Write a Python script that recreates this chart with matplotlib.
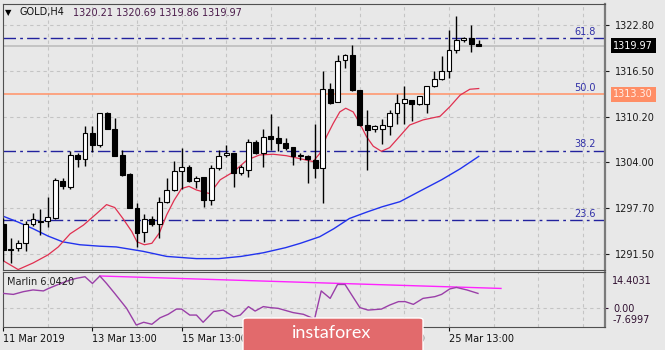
import matplotlib.pyplot as plt
from matplotlib.patches import FancyBboxPatch
import matplotlib.transforms as mtransforms

# GOLD H4 candles, bar 0 = 11 Mar 13:00
opens = [1295.6, 1292.1, 1292.2, 1292.9, 1295.6, 1295.9, 1295.9, 1296.4, 1301.5, 1300.6,
         1305.0, 1304.4, 1308.0, 1306.4, 1310.7, 1308.6, 1305.0, 1302.4, 1297.8, 1294.5,
         1296.2, 1295.6, 1298.6, 1300.2, 1302.8, 1303.3, 1301.5, 1302.0, 1298.8, 1303.2,
         1305.0, 1305.3, 1302.5, 1303.0, 1306.8, 1305.2, 1307.6, 1307.3, 1306.7, 1306.1,
         1304.9, 1304.9, 1304.3, 1303.2, 1314.1, 1312.3, 1318.0, 1318.7, 1313.9, 1309.1,
         1308.5, 1308.6, 1309.0, 1310.8, 1312.1, 1312.5, 1312.0, 1312.0, 1314.4, 1315.4,
         1316.5, 1319.4, 1320.7, 1321.0, 1320.21]
highs = [1296.3, 1293.6, 1293.4, 1296.0, 1297.0, 1297.6, 1299.3, 1301.8, 1301.8, 1305.6,
         1305.2, 1308.9, 1308.9, 1310.8, 1310.9, 1310.0, 1305.7, 1302.5, 1298.4, 1296.9,
         1296.6, 1299.3, 1301.8, 1304.2, 1306.0, 1303.6, 1302.1, 1302.0, 1303.6, 1305.7,
         1306.4, 1305.3, 1303.6, 1307.2, 1307.1, 1308.5, 1310.6, 1309.0, 1307.3, 1306.1,
         1305.3, 1305.0, 1309.3, 1316.5, 1314.8, 1318.7, 1318.8, 1320.1, 1313.9, 1311.2,
         1309.1, 1309.9, 1311.2, 1313.4, 1314.4, 1312.5, 1313.1, 1314.4, 1316.5, 1318.6,
         1322.1, 1324.1, 1321.1, 1322.8, 1320.69]
lows = [1290.5, 1290.2, 1291.8, 1291.9, 1295.3, 1294.1, 1295.1, 1296.2, 1300.3, 1300.4,
        1303.4, 1303.5, 1305.4, 1306.1, 1308.5, 1304.8, 1302.1, 1297.7, 1292.4, 1293.1,
        1295.2, 1293.6, 1298.4, 1300.1, 1300.3, 1301.3, 1300.5, 1297.9, 1298.1, 1302.9,
        1304.7, 1300.6, 1302.2, 1302.0, 1305.1, 1303.3, 1305.7, 1305.5, 1305.7, 1303.6,
        1304.3, 1301.2, 1301.9, 1298.4, 1312.0, 1312.2, 1316.9, 1313.8, 1308.9, 1302.9,
        1308.2, 1306.5, 1307.7, 1309.3, 1309.3, 1309.6, 1311.9, 1310.7, 1314.3, 1315.3,
        1315.6, 1318.9, 1320.5, 1319.1, 1319.86]
closes = [1292.0, 1292.0, 1293.0, 1295.6, 1296.2, 1295.8, 1296.5, 1301.6, 1300.7, 1305.0,
          1304.5, 1308.0, 1306.4, 1310.7, 1308.6, 1304.9, 1302.3, 1297.8, 1294.3, 1296.2,
          1295.6, 1298.6, 1300.2, 1302.8, 1303.3, 1301.5, 1301.9, 1298.8, 1303.2, 1304.9,
          1305.3, 1302.5, 1303.3, 1306.8, 1305.2, 1307.5, 1307.2, 1306.7, 1305.9, 1304.9,
          1304.9, 1304.4, 1303.2, 1314.1, 1312.1, 1317.9, 1318.7, 1313.9, 1309.1, 1308.4,
          1308.9, 1309.1, 1310.8, 1312.1, 1312.6, 1312.0, 1313.1, 1314.4, 1315.4, 1316.5,
          1319.4, 1320.7, 1321.0, 1320.2, 1319.97]

# fast moving average (red)
red_x = [-0.5, 2, 4, 6, 7.4, 9, 10.8, 12.6, 13.9, 15, 16.1, 17.3, 18, 19, 20, 21, 22, 23, 24,
         25, 26, 27.8, 29.2, 31, 32.8, 34.5, 36.3, 38.1, 39.9, 41.7, 42.6, 43.5, 44.4, 45.3,
         46.1, 47.1, 48, 48.9, 49.8, 50.9, 52, 53.4, 54.7, 56.5, 58.8, 60.1, 61.5, 62.8, 64]
red_y = [1290.8, 1289.3, 1290.2, 1291.3, 1292.4, 1294.2, 1295.4, 1297.0, 1298.2, 1297.8,
         1296.3, 1294.5, 1293.1, 1292.7, 1292.9, 1294.3, 1296.8, 1298.8, 1300.4, 1300.7,
         1300.2, 1299.7, 1301.6, 1302.7, 1304.3, 1305.0, 1305.1, 1304.9, 1304.5, 1304.1,
         1305.2, 1307.5, 1309.3, 1310.9, 1311.4, 1310.9, 1309.3, 1307.5, 1306.2, 1305.5,
         1306.0, 1307.6, 1309.1, 1309.8, 1310.3, 1311.6, 1313.2, 1314.0, 1314.1]

# slow moving average (blue)
blue_x = [-0.5, 2, 4, 6, 8, 10.3, 13, 15.2, 18.8, 22, 26, 29, 32, 35, 38, 40, 42.6, 44.5,
          46.6, 49, 51, 53.4, 56, 59, 61.5, 64]
blue_y = [1296.8, 1295.8, 1294.9, 1293.9, 1293.1, 1292.7, 1292.5, 1292.4, 1291.8, 1291.1,
          1290.8, 1290.8, 1291.1, 1291.6, 1292.3, 1292.9, 1293.8, 1294.9, 1296.3, 1297.2,
          1297.9, 1298.6, 1300.0, 1301.6, 1303.1, 1304.8]

fib_names = ['61.8', '50.0', '38.2', '23.6']
fib_levels = [1321.0, 1313.3, 1305.6, 1296.1]
last_price = 1319.97
hline_price = 1313.30

price_ticks = [1322.80, 1316.50, 1310.20, 1304.00, 1297.70, 1291.50]
date_pos = [0, 12, 24, 36, 48, 60]
date_labels = ['11 Mar 2019', '13 Mar 13:00', '15 Mar 13:00', '19 Mar 13:00',
               '21 Mar 13:00', '25 Mar 13:00']

# Marlin oscillator
osc_x = [0, 1.35, 2.7, 4.0, 5.4, 6.1, 7.4, 9.0, 9.9, 11, 12, 13, 13.9, 15, 16.6, 17.9, 18.9,
         20, 21.1, 22.2, 23.3, 24, 25.1, 26, 26.9, 28.3, 29.6, 31, 31.9, 33, 33.9, 35, 35.9,
         37, 39, 40.4, 41.9, 42.8, 44, 45, 46, 46.9, 48, 49.1, 50.9, 52, 53.2, 54.1, 55.2,
         56.5, 58.1, 59, 60.1, 61, 62.4, 63.9]
osc_y = [5.8, 5.4, 6.5, 7.2, 6.8, 7.8, 9.4, 11.2, 11.9, 12.5, 9.8, 12.8, 9.8, 5.8, -0.2, -6.9,
         -5.8, -6.6, -4.0, -2.6, -0.5, -0.5, -2.9, -2.9, -5.8, -1.5, -0.9, -3.6, -2.9, 0.5,
         -1.3, 0.5, 0.1, -0.2, -1.9, -2.6, -4.5, 6.8, 3.8, 9.4, 9.4, 5.2, 0.1, -0.9, -0.5,
         1.1, 2.5, 2.5, 1.4, 3.8, 4.5, 5.4, 7.6, 8.2, 7.2, 5.8]
trend_x = [13, 67]
trend_y = [12.8, 7.8]
osc_max = 14.4031
osc_min = -7.6997

bg = '#e8e8e8'
grid_c = '#c4c4c4'
fig = plt.figure(figsize=(6.65, 3.5), dpi=100, facecolor=bg)

W, H = 665, 350
ax = fig.add_axes([3 / W, 1 - 270 / H, 602 / W, 266 / H], facecolor=bg)
ind = fig.add_axes([3 / W, 1 - 327 / H, 602 / W, 55 / H], facecolor=bg)

grid_pos = range(6, 81, 6)
for a in (ax, ind):
    a.set_xlim(-0.04, 81.0)
    for g in grid_pos:
        a.axvline(g, color=grid_c, lw=0.8, ls=(0, (3, 3)), zorder=0)
    for s in a.spines.values():
        s.set_color('#505050')
        s.set_linewidth(0.8)
    a.spines['right'].set_color('#7a7a7a')
    a.spines['right'].set_linewidth(1.6)

# main panel
ax.set_ylim(1289.24, 1325.68)
for p in price_ticks:
    ax.axhline(p, color=grid_c, lw=0.8, ls=(0, (3, 3)), zorder=0)
ax.yaxis.tick_right()
ax.set_yticks(price_ticks)
ax.set_yticklabels(['%.2f' % p for p in price_ticks])
ax.tick_params(axis='y', length=3, width=0.8, pad=4, labelsize=7, colors='#1a1a1a')
ax.set_xticks([])

ax.axhline(last_price, color='#bdbdbd', lw=1.2, zorder=1)
for name, lev in zip(fib_names, fib_levels):
    if name != '50.0':
        ax.axhline(lev, color='#22229e', lw=1.0, ls=(0, (9, 3, 2, 3)), zorder=1)
    ax.text(79.8, lev + 0.15, name, ha='right', va='bottom', fontsize=7, color='#3030a8')
ax.axhline(hline_price, color='#ff9870', lw=1.2, zorder=1)

ax.plot(blue_x, blue_y, color='#2233ee', lw=1.0, zorder=2)
ax.plot(red_x, red_y, color='#e03050', lw=0.9, zorder=2)

xs = list(range(len(opens)))
ax.vlines(xs, lows, highs, color='black', lw=1.0, zorder=3)
for x, o, c in zip(xs, opens, closes):
    up = c >= o
    ax.bar(x, max(abs(c - o), 0.05), bottom=min(o, c), width=0.66,
           color='white' if up else 'black', edgecolor='black', lw=0.8, zorder=4)

# price boxes on the axis
ax.annotate('%.2f' % last_price, xy=(1.0, last_price), xycoords=('axes fraction', 'data'),
            xytext=(6, 0), textcoords='offset points', ha='left', va='center',
            fontsize=7, color='white', annotation_clip=False,
            bbox=dict(boxstyle='square,pad=0.25', fc='black', ec='none'))
ax.annotate('%.2f' % hline_price, xy=(1.0, hline_price), xycoords=('axes fraction', 'data'),
            xytext=(6, 0), textcoords='offset points', ha='left', va='center',
            fontsize=7, color='#fff0e8', annotation_clip=False,
            bbox=dict(boxstyle='square,pad=0.25', fc='#ff8e66', ec='none'))

# title
fig.text(5 / W, 1 - 12.5 / H, '\u25bc', fontsize=6, color='black', va='center')
fig.text(19 / W, 1 - 12.5 / H, 'GOLD,H4', fontsize=7, color='#101010', va='center')
fig.text(73 / W, 1 - 12.5 / H, '1320.21 1320.69 1319.86 1319.97', fontsize=7,
         color='#4a1a4a', va='center')

# indicator panel
ind.set_ylim(osc_min, osc_max)
ind.axhline(0, color=grid_c, lw=0.8, ls=(0, (3, 3)), zorder=0)
ind.plot(trend_x, trend_y, color='#ff22ff', lw=1.0, zorder=2)
ind.plot(osc_x, osc_y, color='#9a3fa8', lw=1.0, zorder=3)
ind.text(0.007, 0.82, 'Marlin 6.0420', transform=ind.transAxes, fontsize=7,
         color='#202020', va='center')
ind.yaxis.tick_right()
ind.set_yticks([0])
ind.set_yticklabels(['0.00'])
ind.tick_params(axis='y', length=2, width=0.8, pad=4, labelsize=7, colors='#301030')
tr = mtransforms.blended_transform_factory(ind.transAxes, ind.transData)
ind.text(1.012, 10.8, '%.4f' % osc_max, transform=tr, fontsize=7, color='#301030', va='center')
ind.text(1.012, -4.9, '%.4f' % osc_min, transform=tr, fontsize=7, color='#301030', va='center')

ind.set_xticks(date_pos)
ind.set_xticklabels(date_labels, ha='left')
ind.tick_params(axis='x', length=3, width=0.8, pad=2, labelsize=7, colors='#101010')

# watermark logo
logo = FancyBboxPatch((243 / W, -0.02), 180 / W, 318 / H * 0 + (350 - 318) / H + 0.02,
                      boxstyle='round,pad=0,rounding_size=0.006', transform=fig.transFigure,
                      fc='#e26a6c', ec='white', lw=1.0, zorder=10)
fig.patches.append(logo)
fig.text(332 / W, 1 - 333 / H, 'instaforex', fontsize=13, color='white', ha='center',
         va='center', family='Lato', zorder=11)

fig.savefig('out.png', dpi=100, facecolor=bg)
